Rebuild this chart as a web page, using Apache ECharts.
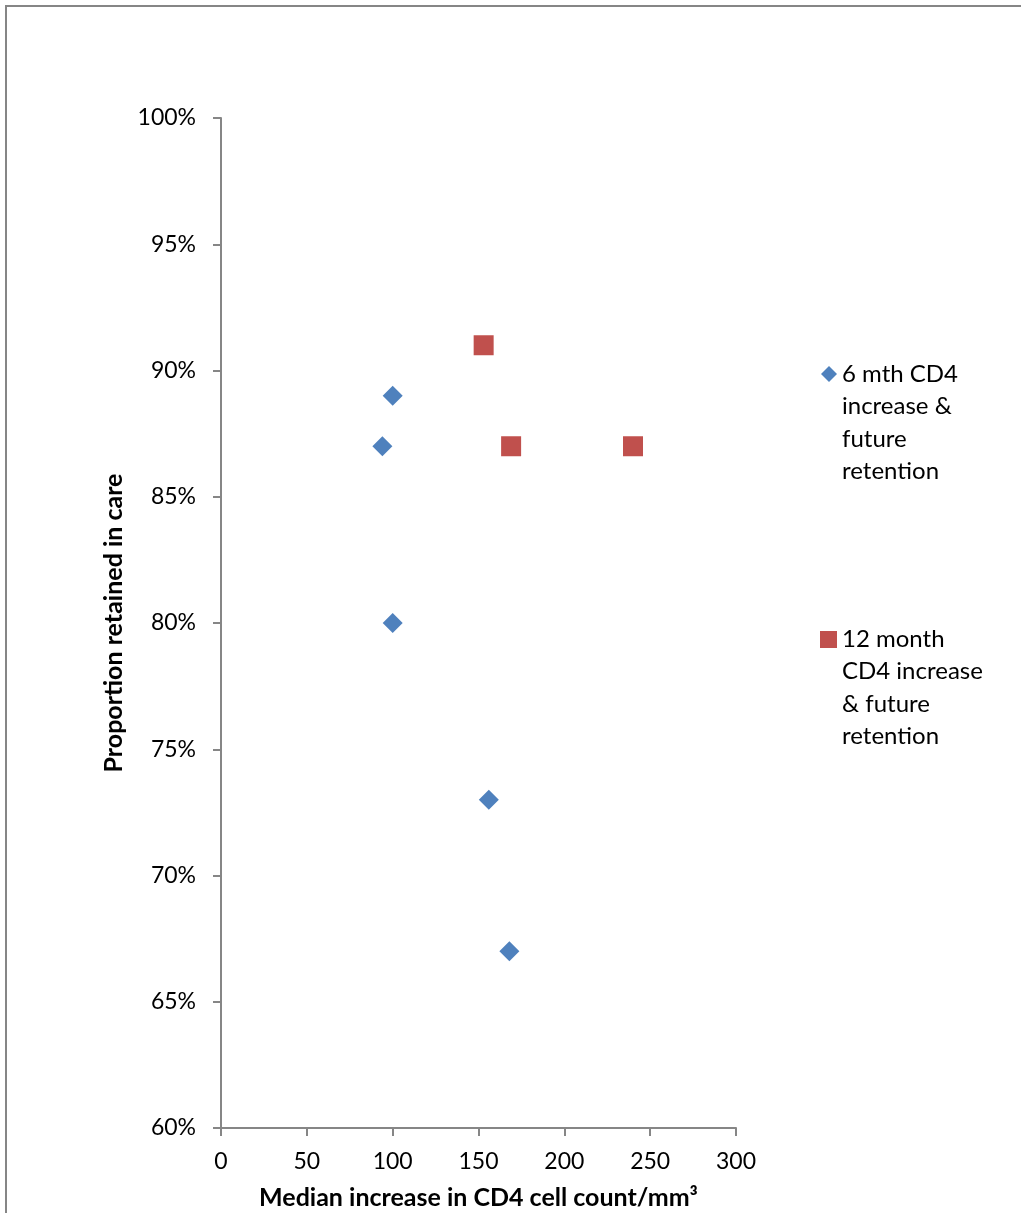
<!DOCTYPE html>
<html>
<head>
<meta charset="utf-8">
<script src="https://cdn.jsdelivr.net/npm/echarts@6/dist/echarts.min.js"></script>
<style>
  html, body { margin: 0; padding: 0; background: #fff; }
  #chart { width: 1021px; height: 1213px; }
</style>
</head>
<body>
<div id="chart"></div>
<script>
// Median CD4 increase (cells/mm³) vs proportion retained in care (%)
var sixMonthCD4 = [100, 94, 100, 156, 168];
var sixMonthRetention = [89, 87, 80, 73, 67];
var twelveMonthCD4 = [153, 169, 240];
var twelveMonthRetention = [91, 87, 87];
var seriesNames = ['6 mth CD4\nincrease &\nfuture\nretention', '12 month\nCD4 increase\n& future\nretention'];

function pairs(xs, ys) {
  return xs.map(function (x, i) { return [x, ys[i]]; });
}

var FONT = 'Lato, "Open Sans", sans-serif';
var axisGray = '#868686';
var LINE_H = 32.5;
var LEGEND_H = LINE_H * 4;

// Legend icons are as tall as the four-line label; the visible glyph sits
// beside the first line, the zero-area subpaths only fix the bounding box.
var diamondIcon = 'path://M0,0L16,0L16,0Z M8,8L16,16L8,24L0,16Z M0,130L16,130L16,130Z';
var squareIcon = 'path://M0,0L17,0L17,0Z M0,8L17,8L17,25L0,25Z M0,130L17,130L17,130Z';

function legendText() {
  return { fontFamily: FONT, fontSize: 24, color: '#000', lineHeight: LINE_H };
}

var chart = echarts.init(document.getElementById('chart'), null, { renderer: 'canvas' });
chart.setOption({
  backgroundColor: '#ffffff',
  animation: false,
  graphic: [{
    type: 'rect',
    shape: { x: 6, y: 6, width: 1100, height: 1300 },
    style: { fill: 'none', stroke: axisGray, lineWidth: 2 },
    silent: true,
    z: -1
  }],
  grid: { left: 221, right: 285, top: 118, bottom: 85, containLabel: false, outerBoundsMode: 'none' },
  legend: [{
    data: [seriesNames[0]],
    orient: 'vertical',
    left: 821,
    top: 358,
    padding: 0,
    itemWidth: 16,
    itemHeight: LEGEND_H,
    itemGap: 0,
    icon: diamondIcon,
    itemStyle: { borderWidth: 0 },
    textStyle: legendText(),
    selectedMode: false
  }, {
    data: [seriesNames[1]],
    orient: 'vertical',
    left: 820,
    top: 623,
    padding: 0,
    itemWidth: 17,
    itemHeight: LEGEND_H,
    itemGap: 0,
    icon: squareIcon,
    itemStyle: { borderWidth: 0 },
    textStyle: legendText(),
    selectedMode: false
  }],
  xAxis: {
    type: 'value',
    min: 0,
    max: 300,
    interval: 50,
    name: 'Median increase in CD4 cell count/mm³',
    nameLocation: 'middle',
    nameGap: 57,
    nameTextStyle: { fontFamily: FONT, fontSize: 25, fontWeight: 'bold', color: '#000' },
    axisLine: { show: true, onZero: false, lineStyle: { color: axisGray, width: 2 } },
    axisTick: { show: true, inside: false, length: 8, lineStyle: { color: axisGray, width: 2 } },
    axisLabel: { margin: 22, fontFamily: FONT, fontSize: 23, color: '#000' },
    splitLine: { show: false }
  },
  yAxis: {
    type: 'value',
    min: 60,
    max: 100,
    interval: 5,
    name: 'Proportion retained in care',
    nameLocation: 'middle',
    nameGap: 95,
    nameTextStyle: { fontFamily: FONT, fontSize: 25, fontWeight: 'bold', color: '#000' },
    axisLine: { show: true, onZero: false, lineStyle: { color: axisGray, width: 2 } },
    axisTick: { show: true, inside: false, length: 8, lineStyle: { color: axisGray, width: 2 } },
    axisLabel: { margin: 25, fontFamily: FONT, fontSize: 23, color: '#000', formatter: '{value}%' },
    splitLine: { show: false }
  },
  series: [{
    name: seriesNames[0],
    type: 'scatter',
    data: pairs(sixMonthCD4, sixMonthRetention),
    symbol: 'diamond',
    symbolSize: 20,
    itemStyle: { color: '#4F81BD', opacity: 1 }
  }, {
    name: seriesNames[1],
    type: 'scatter',
    data: pairs(twelveMonthCD4, twelveMonthRetention),
    symbol: 'rect',
    symbolSize: 20,
    itemStyle: { color: '#C0504D', opacity: 1 }
  }]
});
</script>
</body>
</html>
